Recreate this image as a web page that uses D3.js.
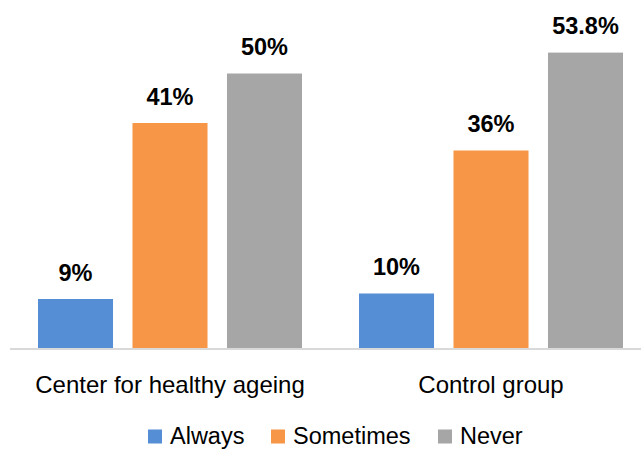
<!DOCTYPE html>
<html><head><meta charset="utf-8">
<script src="https://cdn.jsdelivr.net/npm/d3@7"></script>
<style>body{margin:0;background:#fff;} svg{display:block;font-family:"Liberation Sans",Arial,sans-serif;}</style>
</head><body>
<script>
const groups = ["Center for healthy ageing", "Control group"];
const seriesNames = ["Always", "Sometimes", "Never"];
const always = [9, 10];
const sometimes = [41, 36];
const never = [50, 53.8];
const valueLabels = [["9%", "41%", "50%"], ["10%", "36%", "53.8%"]];
const colors = ["#558ed5", "#f79646", "#a6a6a6"];

const W = 641, H = 450;
const svg = d3.select("body").append("svg").attr("width", W).attr("height", H);

const x0 = d3.scaleBand().domain(groups).range([9.5, 651.5]);
const x1 = d3.scaleBand().domain(seriesNames).range([28.5, 292.5]).paddingInner(0.206);
const y = d3.scaleLinear().domain([0, 60]).range([348.5, 18.5]);

const seriesVals = [always, sometimes, never];
const data = [];
groups.forEach((g, gi) => seriesNames.forEach((s, si) => data.push({g, s, si, v: seriesVals[si][gi], label: valueLabels[gi][si]})));

svg.append("g").selectAll("rect").data(data).join("rect")
  .attr("x", d => x0(d.g) + x1(d.s))
  .attr("y", d => y(d.v))
  .attr("width", x1.bandwidth())
  .attr("height", d => y(0) - y(d.v))
  .attr("fill", d => colors[d.si]);

svg.append("g").selectAll("text").data(data).join("text")
  .attr("x", d => x0(d.g) + x1(d.s) + x1.bandwidth() / 2)
  .attr("y", d => y(d.v) - 18.5)
  .attr("text-anchor", "middle")
  .attr("font-size", 23.5).attr("font-weight", "bold").attr("fill", "#000")
  .text(d => d.label);

// axis
const xAxis = d3.axisBottom(x0).tickSize(0).tickPadding(0);
const ax = svg.append("g").attr("transform", `translate(0,${y(0)})`).call(xAxis);
ax.select(".domain").attr("stroke", "#d9d9d9").attr("stroke-width", 2).attr("d", "M10,0.5H641");
ax.selectAll(".tick text").attr("y", 44).attr("dy", 0).attr("font-size", 24).attr("fill", "#000")
  .attr("font-family", "'Liberation Sans',Arial,sans-serif");

// legend
const legendX = [148, 271, 438];
const lg = svg.append("g").selectAll("g").data(seriesNames).join("g")
  .attr("transform", (d, i) => `translate(${legendX[i]},0)`);
lg.append("rect").attr("x", 0).attr("y", 429.5).attr("width", 14).attr("height", 14).attr("fill", (d, i) => colors[i]);
lg.append("text").attr("x", 22).attr("y", 444).attr("font-size", 23.5).attr("fill", "#000").text(d => d);
</script>
</body></html>
